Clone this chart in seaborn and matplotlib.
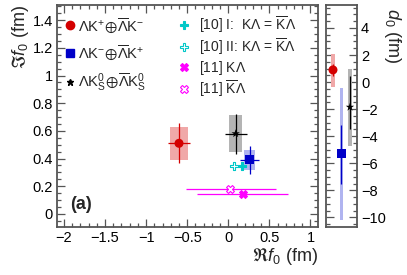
"""Scattering parameters f0 (Re, Im) and d0 for Lambda-K pairs, two-panel layout."""

import matplotlib
matplotlib.use("Agg")
import matplotlib.pyplot as plt
from matplotlib.lines import Line2D
from matplotlib.patches import Rectangle
from matplotlib.ticker import MultipleLocator
import pandas as pd
import seaborn as sns

# ---------------------------------------------------------------- data
SYSTEMS = ["LK+", "LK-", "LK0"]
SYS_LABELS = [
    r"$\mathrm{\Lambda K^{+}}\!\oplus\!\overline{\Lambda}\mathrm{K^{-}}$",
    r"$\mathrm{\Lambda K^{-}}\!\oplus\!\overline{\Lambda}\mathrm{K^{+}}$",
    r"$\mathrm{\Lambda K^{0}_{S}}\!\oplus\!\overline{\Lambda}\mathrm{K^{0}_{S}}$",
]
SYS_COLORS = ["#d40000", "#0000c8", "#000000"]
SYS_BOX = ["#f0a8a8", "#b0b4f0", "#b4b4b4"]
SYS_MARKERS = ["o", "s", "*"]
SYS_SIZES = [42, 42, 40]

re_f0 = [-0.60, 0.26, 0.09]
im_f0 = [0.51, 0.39, 0.58]
re_stat = [0.13, 0.115, 0.135]
im_stat = [0.145, 0.10, 0.145]
re_syst = [0.11, 0.07, 0.08]
im_syst = [0.12, 0.075, 0.135]

d0 = [0.9, -5.3, -1.85]
d0_stat_lo = [0.45, 2.2, 1.65]
d0_stat_hi = [0.40, 2.1, 2.3]
d0_syst_lo = [1.3, 4.9, 2.85]
d0_syst_hi = [1.2, 4.85, 2.8]

# theory predictions
TH_LABELS = [
    r"[10] I:  K$\Lambda$ = $\overline{\mathrm{K}}\Lambda$",
    r"[10] II: K$\Lambda$ = $\overline{\mathrm{K}}\Lambda$",
    r"[11] K$\Lambda$",
    r"[11] $\overline{\mathrm{K}}\Lambda$",
]
th_re = [0.17, 0.07, 0.18, 0.025]
th_im = [0.345, 0.345, 0.14, 0.18]
th_re_lo = [0.0, 0.0, 0.56, 0.545]
th_re_hi = [0.0, 0.0, 0.55, 0.555]
TH_COLORS = ["#00c8c8", "#00c8c8", "#ff00ff", "#ff00ff"]
TH_MARKERS = ["P", "P", "X", "X"]
TH_FILLED = [True, False, True, False]

# ---------------------------------------------------------------- style
sns.set_style("ticks")
plt.rcParams["font.family"] = ["Liberation Sans", "DejaVu Sans"]
plt.rcParams["mathtext.fontset"] = "custom"
plt.rcParams["mathtext.rm"] = "Liberation Sans"
plt.rcParams["mathtext.it"] = "Liberation Sans:italic"
plt.rcParams["mathtext.bf"] = "Liberation Sans:bold"
plt.rcParams["mathtext.fallback"] = "stixsans"
FRAME = "#555555"

fig = plt.figure(figsize=(4.07, 2.75), dpi=100)
ax = fig.add_axes([0.140, 0.175, 0.641, 0.807])
axd = fig.add_axes([0.801, 0.175, 0.076, 0.807])

df = pd.DataFrame({"system": SYSTEMS, "re": re_f0, "im": im_f0, "d0": d0,
                   "pos": [1, 2, 3]})

# ---------------------------------------------------------------- main panel
for i in range(3):
    ax.add_patch(Rectangle((re_f0[i] - re_syst[i], im_f0[i] - im_syst[i]),
                           2 * re_syst[i], 2 * im_syst[i],
                           color=SYS_BOX[i], lw=0, zorder=1))
    ax.errorbar(re_f0[i], im_f0[i], xerr=re_stat[i], yerr=im_stat[i],
                fmt="none", ecolor=SYS_COLORS[i], elinewidth=0.9, zorder=2)

for i in range(4):
    if th_re_lo[i] > 0:
        ax.errorbar(th_re[i], th_im[i], xerr=[[th_re_lo[i]], [th_re_hi[i]]],
                    fmt="none", ecolor=TH_COLORS[i], elinewidth=0.9, zorder=2)
    ax.scatter(th_re[i], th_im[i], marker=TH_MARKERS[i], s=32,
               facecolor=TH_COLORS[i] if TH_FILLED[i] else "white",
               edgecolor=TH_COLORS[i], linewidths=0.8, zorder=3)

sns.scatterplot(data=df, x="re", y="im", hue="system", style="system",
                size="system", palette=SYS_COLORS, markers=SYS_MARKERS,
                sizes=SYS_SIZES, linewidth=0, legend=False, ax=ax, zorder=4)

ax.set_xlim(-2.085, 1.09)
ax.set_ylim(-0.094, 1.51)
ax.xaxis.set_minor_locator(MultipleLocator(0.1))
ax.yaxis.set_minor_locator(MultipleLocator(0.05))
ax.set_xticks([-2, -1.5, -1, -0.5, 0, 0.5, 1])
ax.set_xticklabels(["\u22122", "\u22121.5", "\u22121", "\u22120.5", "0", "0.5", "1"])
ax.set_yticks([0, 0.2, 0.4, 0.6, 0.8, 1.0, 1.2, 1.4])
ax.set_yticklabels(["0", "0.2", "0.4", "0.6", "0.8", "1", "1.2", "1.4"])
ax.set_xlabel(r"$\Re f_0$ (fm)", fontsize=13, labelpad=1, loc="right")
ax.set_ylabel(r"$\Im f_0$ (fm)", fontsize=13, labelpad=1, loc="top")
ax.text(-1.93, 0.07, "(a)", fontsize=13, fontweight="bold", va="center")

h_sys = [Line2D([], [], ls="none", marker=SYS_MARKERS[i], color=SYS_COLORS[i],
                markersize=6 if i < 2 else 5) for i in range(3)]
leg1 = ax.legend(h_sys, SYS_LABELS, loc="upper left", frameon=False,
                 fontsize=10.5, handlelength=0.6, handletextpad=0.25,
                 labelspacing=0.62, borderaxespad=0.2,
                 bbox_to_anchor=(0.0, 0.99))
ax.add_artist(leg1)
h_th = [Line2D([], [], ls="none", marker=TH_MARKERS[i], markersize=5.5,
               markerfacecolor=TH_COLORS[i] if TH_FILLED[i] else "white",
               markeredgecolor=TH_COLORS[i], markeredgewidth=0.8)
        for i in range(4)]
ax.legend(h_th, TH_LABELS, loc="upper left", frameon=False, fontsize=10,
          handlelength=0.6, handletextpad=0.75, labelspacing=0.12,
          borderaxespad=0.2, bbox_to_anchor=(0.44, 0.995))

# ---------------------------------------------------------------- d0 panel
for i in range(3):
    axd.add_patch(Rectangle((i + 1 - 0.22, d0[i] - d0_syst_lo[i]), 0.44,
                            d0_syst_lo[i] + d0_syst_hi[i],
                            color=SYS_BOX[i], lw=0, zorder=1))
    axd.errorbar(i + 1, d0[i], yerr=[[d0_stat_lo[i]], [d0_stat_hi[i]]],
                 fmt="none", ecolor=SYS_COLORS[i], elinewidth=0.9, zorder=2)

sns.scatterplot(data=df, x="pos", y="d0", hue="system", style="system",
                size="system", palette=SYS_COLORS, markers=SYS_MARKERS,
                sizes=SYS_SIZES, linewidth=0, legend=False, ax=axd, zorder=4)

axd.set_xlim(0.18, 3.82)
axd.set_ylim(-10.7, 5.7)
axd.set_xticks([])
axd.set_xlabel("")
axd.set_ylabel("")
axd.yaxis.set_minor_locator(MultipleLocator(0.5))
axd.yaxis.tick_right()
axd.set_yticks([-10, -8, -6, -4, -2, 0, 2, 4])
axd.set_yticklabels(["\u221210", "\u22128", "\u22126", "\u22124", "\u22122", "0", "2", "4"])
fig.text(393 / 407, 1 - 8 / 275, r"$d_0$ (fm)", fontsize=13, rotation=270,
         ha="center", va="top")

for a in (ax, axd):
    for s in a.spines.values():
        s.set_color(FRAME)
        s.set_linewidth(1.3)
    a.tick_params(which="both", direction="in", colors=FRAME,
                  labelcolor="black", labelsize=10.5, width=0.9)
    a.tick_params(which="major", length=6, pad=3)
    a.tick_params(which="minor", length=3)
ax.tick_params(which="both", top=True, right=True)
axd.tick_params(which="both", left=True, right=True)
axd.tick_params(axis="x", which="both", bottom=False, top=False)

fig.savefig("out.png", dpi=100)
